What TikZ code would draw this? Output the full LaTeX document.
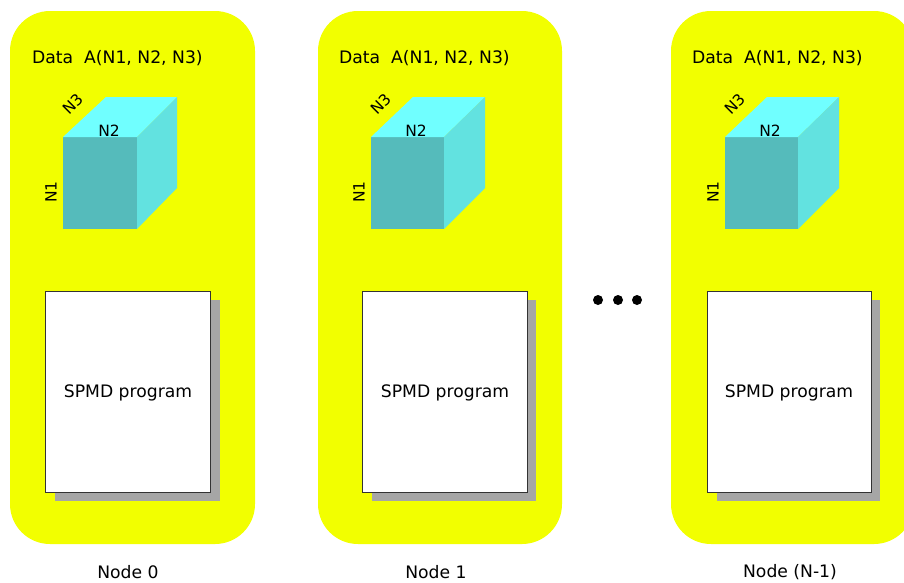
\documentclass[tikz,border=0pt]{standalone}
\usepackage{fontspec}
\setmainfont{DejaVu Sans}
\usepackage{xcolor}
\definecolor{nodeyellow}{RGB}{242,255,0}
\definecolor{cubefront}{RGB}{85,187,187}
\definecolor{cubetop}{RGB}{112,255,255}
\definecolor{cubeside}{RGB}{98,226,224}
\definecolor{shadowgray}{RGB}{166,166,166}
\begin{document}
\begin{tikzpicture}[x=1pt,y=-1pt,
  panel/.style={fill=nodeyellow,rounded corners=40pt},
  prog/.style={draw=black!80,line width=1pt,fill=white},
  progshadow/.style={fill=shadowgray},
  txt/.style={font=\fontsize{17.2}{19}\selectfont,inner sep=0pt},
  small/.style={font=\fontsize{15.5}{17}\selectfont,inner sep=0pt}]
\useasboundingbox (0,0) rectangle (904,582);
\clip (0,0) rectangle (904,582);
% node 0
\fill[panel] (10,11) rectangle (255,544);
\node[txt,anchor=west] (data0) at (32,58) {Data\ \ A(N1, N2, N3)};
\fill[cubefront] (63,137) rectangle (137,229);
\fill[cubetop] (63,137) -- (106,97) -- (177,97) -- (137,137) -- cycle;
\fill[cubeside] (137,137) -- (177,97) -- (177,188) -- (137,229) -- cycle;
\node[small,rotate=45] (n30) at (73,104) {N3};
\node[small] (n20) at (109,131) {N2};
\node[small,rotate=90] (n10) at (51,192) {N1};
\fill[progshadow] (55,300) rectangle (220,501);
\draw[prog] (45,291) rectangle (210,492);
\node[txt] (prog0) at (128,393) {SPMD program};
\node[txt] (label0) at (128,572) {Node 0};
% node 1
\fill[panel] (318,11) rectangle (562,544);
\node[txt,anchor=west] (data1) at (339,58) {Data\ \ A(N1, N2, N3)};
\fill[cubefront] (371,137) rectangle (444,229);
\fill[cubetop] (371,137) -- (413,97) -- (485,97) -- (444,137) -- cycle;
\fill[cubeside] (444,137) -- (485,97) -- (485,188) -- (444,229) -- cycle;
\node[small,rotate=45] (n31) at (381,104) {N3};
\node[small] (n21) at (416,131) {N2};
\node[small,rotate=90] (n11) at (359,192) {N1};
\fill[progshadow] (372,300) rectangle (536,501);
\draw[prog] (362,291) rectangle (527,492);
\node[txt] (prog1) at (445,393) {SPMD program};
\node[txt] (label1) at (436,572) {Node 1};
% dots
\fill (598,300) circle (5);
\fill (618,300) circle (5);
\fill (637,300) circle (5);
% node N-1
\fill[panel] (671,11) rectangle (914,544);
\node[txt,anchor=west] (data2) at (692,58) {Data\ \ A(N1, N2, N3)};
\fill[cubefront] (725,137) rectangle (798,229);
\fill[cubetop] (725,137) -- (767,97) -- (839,97) -- (798,137) -- cycle;
\fill[cubeside] (798,137) -- (839,97) -- (839,188) -- (798,229) -- cycle;
\node[small,rotate=45] (n32) at (735,104) {N3};
\node[small] (n22) at (770,131) {N2};
\node[small,rotate=90] (n12) at (713,192) {N1};
\fill[progshadow] (717,300) rectangle (880,501);
\draw[prog] (707,291) rectangle (871,492);
\node[txt] (prog2) at (789,393) {SPMD program};
\node[txt] (label2) at (790,572) {Node (N-1)};
\end{tikzpicture}
\end{document}
